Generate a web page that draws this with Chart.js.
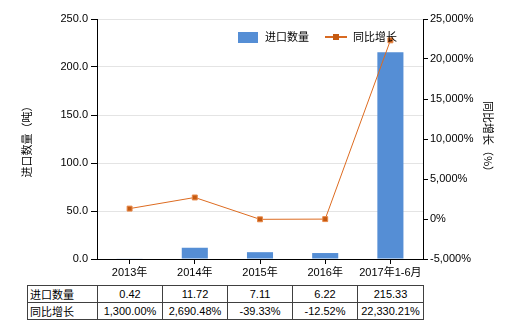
<!DOCTYPE html>
<html>
<head>
<meta charset="utf-8">
<script src="https://cdn.jsdelivr.net/npm/chart.js@4/dist/chart.umd.min.js"></script>
<style>
  html, body { margin: 0; padding: 0; background: #fff; }
  #wrap { position: relative; width: 520px; height: 330px; font-family: "Liberation Sans", "Noto Sans CJK SC", sans-serif; color: #000; }
  #c { position: absolute; left: 0; top: 0; }
  .leg { position: absolute; font-size: 11px; line-height: 12px; }
  table { position: absolute; border-collapse: collapse; font-size: 11px; left: 27px; top: 285px; table-layout: fixed; }
  td { border: 1px solid #404040; height: 16px; padding: 0; text-align: center; white-space: nowrap; overflow: hidden; }
  td.h { text-align: left; padding-left: 2px; }
</style>
</head>
<body>
<div id="wrap">
  <canvas id="c" width="520" height="280"></canvas>
  <div class="leg" style="left:238px;top:32px;width:20px;height:11px;background:#558ED5;"></div>
  <div class="leg" style="left:265px;top:31px;">进口数量</div>
  <div class="leg" style="left:325px;top:36px;width:22px;height:2px;background:#D86A22;"></div>
  <div class="leg" style="left:333px;top:34px;width:6px;height:6px;background:#C55A11;"></div>
  <div class="leg" style="left:353px;top:31px;">同比增长</div>
  <table id="tbl"></table>
</div>
<script>
const categories = ['2013年', '2014年', '2015年', '2016年', '2017年1-6月'];
const importQty = [0.42, 11.72, 7.11, 6.22, 215.33];
const yoyGrowth = [1300.00, 2690.48, -39.33, -12.52, 22330.21];
const seriesNames = ['进口数量', '同比增长'];

const fmt2 = v => v.toLocaleString('en-US', { minimumFractionDigits: 2, maximumFractionDigits: 2 });

// table
const tbl = document.getElementById('tbl');
const colW = [70, 65, 65, 65, 65, 66];
let cg = '<colgroup>' + colW.map(w => '<col style="width:' + w + 'px">').join('') + '</colgroup>';
let r1 = '<tr><td class="h">' + seriesNames[0] + '</td>' + importQty.map(v => '<td>' + fmt2(v) + '</td>').join('') + '</tr>';
let r2 = '<tr><td class="h">' + seriesNames[1] + '</td>' + yoyGrowth.map(v => '<td>' + fmt2(v) + '%</td>').join('') + '</tr>';
tbl.innerHTML = cg + r1 + r2;

const FONT = { family: '"Liberation Sans", "Noto Sans CJK SC", sans-serif', size: 11 };
const TFONT = { family: '"Noto Sans CJK SC", sans-serif', size: 11 };

new Chart(document.getElementById('c'), {
  data: {
    labels: categories,
    datasets: [
      {
        type: 'line', label: seriesNames[1], data: yoyGrowth, yAxisID: 'y1', order: 0,
        borderColor: '#DD6B20', borderWidth: 1, pointStyle: 'rect', pointRadius: 3.5,
        pointBackgroundColor: '#C55A11', pointBorderColor: '#E8894A', pointBorderWidth: 1, tension: 0
      },
      {
        type: 'bar', label: seriesNames[0], data: importQty, yAxisID: 'y', order: 1,
        backgroundColor: '#558ED5', categoryPercentage: 1, barPercentage: 0.4
      }
    ]
  },
  options: {
    responsive: false, animation: false,
    layout: { padding: { top: 19, left: 0, right: 0, bottom: 0 } },
    plugins: { legend: { display: false }, tooltip: { enabled: false } },
    scales: {
      x: {
        offset: true,
        grid: { offset: false, drawOnChartArea: false, drawTicks: true, tickLength: 5, tickColor: '#000' },
        border: { color: '#000', width: 1 },
        ticks: { color: '#000', font: FONT, padding: 2, maxRotation: 0, autoSkip: false },
        afterFit: s => { s.height = 21; }
      },
      y: {
        position: 'left', min: 0, max: 250,
        ticks: { stepSize: 50, color: '#000', font: FONT, padding: 3, callback: v => v.toFixed(1) },
        grid: { color: '#E4E4E4', tickColor: '#000', tickLength: 6 },
        border: { color: '#000', width: 1 },
        title: { display: true, text: '进口数量（吨）', color: '#000', font: TFONT, padding: { top: 20, bottom: 0 } },
        afterFit: s => { s.width = 97; }
      },
      y1: {
        position: 'right', min: -5000, max: 25000,
        ticks: { stepSize: 5000, color: '#000', font: FONT, padding: 2, callback: v => v.toLocaleString('en-US') + '%' },
        grid: { drawOnChartArea: false, tickColor: '#000', tickLength: 5 },
        border: { color: '#000', width: 1 },
        title: { display: true, text: '同比增长（%）', color: '#000', font: TFONT, padding: { top: 25, bottom: 0 } },
        afterFit: s => { s.width = 97; }
      }
    }
  }
});
</script>
</body>
</html>
